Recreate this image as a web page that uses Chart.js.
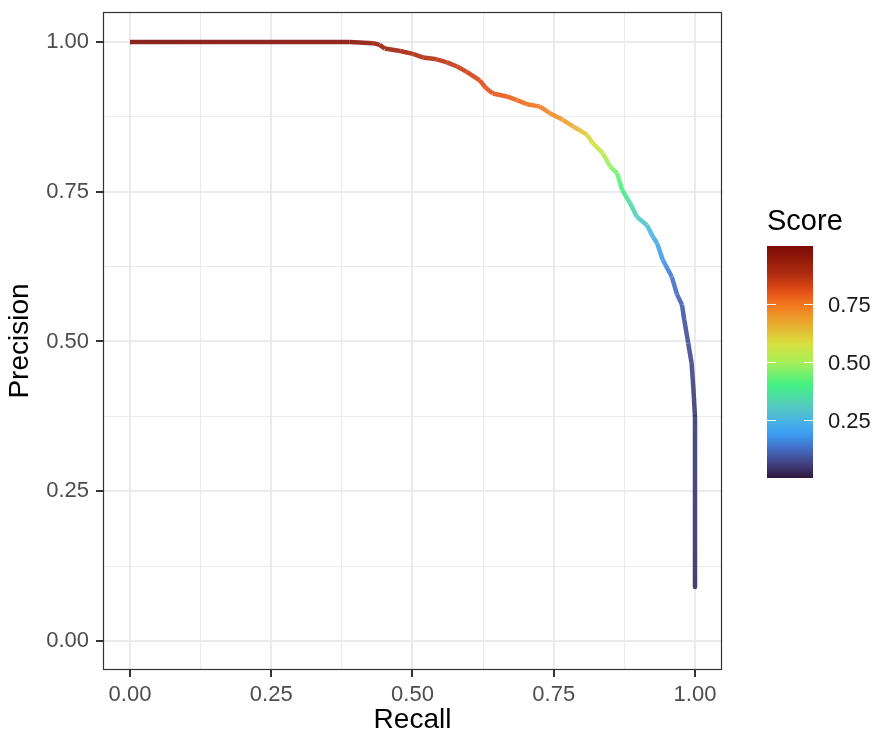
<!DOCTYPE html>
<html><head><meta charset="utf-8">
<script src="https://cdn.jsdelivr.net/npm/chart.js@4/dist/chart.umd.min.js"></script>
<style>html,body{margin:0;padding:0;background:#fff}#wrap{width:875px;height:737px}</style>
</head><body><div id="wrap"><canvas id="c" width="875" height="737"></canvas></div>
<script>
// ---- data ----
const recall = [0.000, 0.389, 0.430, 0.442, 0.451, 0.478, 0.501, 0.519, 0.543, 0.561, 0.579, 0.596, 0.619, 0.630, 0.642, 0.667, 0.685, 0.703, 0.726, 0.743, 0.766, 0.784, 0.809, 0.819, 0.837, 0.850, 0.862, 0.871, 0.885, 0.897, 0.915, 0.926, 0.933, 0.943, 0.959, 0.968, 0.977, 0.981, 0.988, 0.994, 0.997, 1.000, 1.000];
const precision = [1.000, 1.000, 0.998, 0.995, 0.989, 0.985, 0.980, 0.974, 0.971, 0.966, 0.959, 0.950, 0.936, 0.923, 0.914, 0.909, 0.903, 0.896, 0.892, 0.881, 0.870, 0.859, 0.845, 0.831, 0.814, 0.792, 0.781, 0.753, 0.731, 0.708, 0.694, 0.674, 0.664, 0.636, 0.608, 0.579, 0.561, 0.536, 0.497, 0.464, 0.424, 0.374, 0.090];
const score = [0.99, 0.97, 0.94, 0.93, 0.92, 0.91, 0.89, 0.88, 0.87, 0.86, 0.85, 0.84, 0.82, 0.81, 0.80, 0.79, 0.77, 0.76, 0.74, 0.72, 0.69, 0.66, 0.60, 0.57, 0.53, 0.48, 0.44, 0.40, 0.35, 0.31, 0.28, 0.24, 0.22, 0.18, 0.14, 0.12, 0.10, 0.09, 0.08, 0.07, 0.06, 0.05, 0.03];
const xTicks = [0, 0.25, 0.5, 0.75, 1];
const yTicks = [0, 0.25, 0.5, 0.75, 1];
const xMinor = [0.125, 0.375, 0.625, 0.875];
const yMinor = [0.125, 0.375, 0.625, 0.875];
const scoreTicks = [0.25, 0.5, 0.75];
const scoreLimits = [0, 1];

// ---- colour map (turbo-like, as seen in the legend) ----
const stops = [
  [0.00, [47, 26, 64]], [0.06, [64, 64, 127]], [0.12, [68, 104, 192]], [0.19, [60, 158, 245]],
  [0.25, [74, 180, 226]], [0.31, [85, 203, 191]], [0.40, [68, 241, 132]], [0.50, [168, 239, 88]],
  [0.58, [216, 224, 64]], [0.67, [234, 167, 46]], [0.75, [242, 118, 30]], [0.81, [226, 76, 22]],
  [0.88, [174, 44, 16]], [1.00, [122, 10, 6]]
];
function cmap(s, a) {
  s = Math.max(0, Math.min(1, s));
  for (let i = 1; i < stops.length; i++) {
    if (s <= stops[i][0]) {
      const [s0, c0] = stops[i - 1], [s1, c1] = stops[i];
      const t = (s - s0) / (s1 - s0);
      const c = c0.map((v, k) => Math.round(v + (c1[k] - v) * t));
      return `rgba(${c[0]},${c[1]},${c[2]},${a})`;
    }
  }
  const c = stops[stops.length - 1][1];
  return `rgba(${c[0]},${c[1]},${c[2]},${a})`;
}

const FONT = '"Liberation Sans", Arial, Helvetica, sans-serif';
Chart.defaults.font.family = FONT;
const ALPHA = 0.9;

const points = recall.map((r, i) => ({x: r, y: precision[i]}));
const isMajor = (v, arr) => arr.some(t => Math.abs(t - v) < 1e-9);

const panelBorder = {
  id: 'panelBorder',
  afterDraw(chart) {
    const {ctx, chartArea: a} = chart;
    ctx.save();
    ctx.strokeStyle = '#333333';
    ctx.lineWidth = 1.2;
    ctx.strokeRect(a.left + 0.5, a.top + 0.5, a.right - a.left - 1, a.bottom - a.top - 1);
    // colour bar legend
    const bx = 767, by = 246, bw = 46, bh = 232;
    const g = ctx.createLinearGradient(0, by + bh, 0, by);
    for (let i = 0; i <= 50; i++) g.addColorStop(i / 50, cmap(scoreLimits[0] + (scoreLimits[1] - scoreLimits[0]) * i / 50, 1));
    ctx.fillStyle = g;
    ctx.fillRect(bx, by, bw, bh);
    ctx.strokeStyle = '#ffffff';
    ctx.lineWidth = 1.2;
    ctx.fillStyle = '#1a1a1a';
    ctx.font = `22px ${FONT}`;
    ctx.textBaseline = 'middle';
    ctx.textAlign = 'left';
    scoreTicks.forEach(s => {
      const y = Math.round(by + bh * (1 - (s - scoreLimits[0]) / (scoreLimits[1] - scoreLimits[0]))) + 0.5;
      ctx.beginPath();
      ctx.moveTo(bx, y); ctx.lineTo(bx + 9, y);
      ctx.moveTo(bx + bw - 9, y); ctx.lineTo(bx + bw, y);
      ctx.stroke();
      ctx.fillText(s.toFixed(2), 828, y + 1);
    });
    ctx.fillStyle = '#000000';
    ctx.font = `29px ${FONT}`;
    ctx.textBaseline = 'alphabetic';
    ctx.fillText('Score', 767, 230);
    ctx.restore();
  }
};

const noPad = s => { s.paddingTop = 0; s.paddingBottom = 0; s.paddingLeft = 0; s.paddingRight = 0; };

new Chart(document.getElementById('c'), {
  type: 'scatter',
  data: {
    datasets: [{
      data: points,
      showLine: true,
      pointRadius: 0,
      borderWidth: 4.5,
      borderJoinStyle: 'round',
      borderColor: cmap(score[0], ALPHA),
      segment: {
        borderColor: ctx => {
          const i0 = ctx.p0DataIndex, i1 = ctx.p1DataIndex;
          const dx = ctx.p1.x - ctx.p0.x, dy = ctx.p1.y - ctx.p0.y;
          if (dx * dx + dy * dy < 0.25) return cmap(score[i0], ALPHA);
          const g = ctx.chart.ctx.createLinearGradient(ctx.p0.x, ctx.p0.y, ctx.p1.x, ctx.p1.y);
          g.addColorStop(0, cmap(score[i0], ALPHA));
          g.addColorStop(1, cmap(score[i1], ALPHA));
          return g;
        }
      }
    }]
  },
  options: {
    responsive: false,
    animation: false,
    devicePixelRatio: 1,
    layout: {padding: {left: 0, top: 12, right: 153, bottom: 0}},
    plugins: {legend: {display: false}, tooltip: {enabled: false}},
    scales: {
      x: {
        type: 'linear', min: -0.0478, max: 1.0478,
        afterBuildTicks: s => { s.ticks = xTicks.concat(xMinor).sort((a, b) => a - b).map(v => ({value: v})); },
        afterFit: s => { s.height = 67; noPad(s); },
        ticks: {
          autoSkip: false, maxRotation: 0, padding: 7, color: '#4d4d4d',
          font: {size: 22, lineHeight: 1},
          callback: v => isMajor(v, xTicks) ? v.toFixed(2) : ''
        },
        grid: {
          color: '#ebebeb',
          lineWidth: c => (c.tick && isMajor(c.tick.value, xTicks)) ? 2 : 1.1,
          tickLength: 7, tickWidth: 2,
          tickColor: c => (c.tick && isMajor(c.tick.value, xTicks)) ? '#333333' : 'rgba(0,0,0,0)'
        },
        border: {display: false},
        title: {display: true, text: 'Recall', color: '#000', font: {size: 28}, padding: {top: 0, bottom: 0}}
      },
      y: {
        type: 'linear', min: -0.0485, max: 1.05,
        afterBuildTicks: s => { s.ticks = yTicks.concat(yMinor).sort((a, b) => a - b).map(v => ({value: v})); },
        afterFit: s => { s.width = 103; noPad(s); },
        ticks: {
          autoSkip: false, padding: 7, color: '#4d4d4d',
          font: {size: 22, lineHeight: 1},
          callback: v => isMajor(v, yTicks) ? v.toFixed(2) : ''
        },
        grid: {
          color: '#ebebeb',
          lineWidth: c => (c.tick && isMajor(c.tick.value, yTicks)) ? 2 : 1.1,
          tickLength: 7, tickWidth: 2,
          tickColor: c => (c.tick && isMajor(c.tick.value, yTicks)) ? '#333333' : 'rgba(0,0,0,0)'
        },
        border: {display: false},
        title: {display: true, text: 'Precision', color: '#000', font: {size: 28}, padding: {top: 3, bottom: 0}}
      }
    }
  },
  plugins: [panelBorder]
});
</script>
</body></html>
